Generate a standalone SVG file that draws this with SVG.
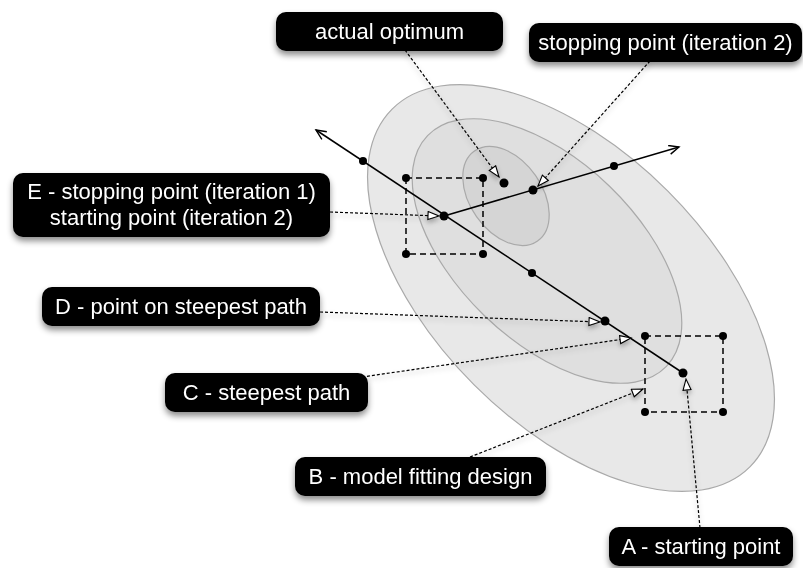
<svg xmlns="http://www.w3.org/2000/svg" width="803" height="568" viewBox="0 0 803 568">
  <style>
    .contour { stroke: #a9a9a9; stroke-width: 1.2; }
    .design { fill: none; stroke: #000; stroke-width: 1.5; stroke-dasharray: 6 4; }
    .path { fill: none; stroke: #000; stroke-width: 1.5; }
    .dot { fill: #000; }
    .lead { fill: none; stroke: #000; stroke-width: 1.2; stroke-dasharray: 3 2; marker-end: url(#hollow); }
    .box { fill: #000; }
    .lbl { fill: #fff; font-family: "Liberation Sans", Arial, Helvetica, sans-serif; font-size: 22px; text-anchor: middle; }
  </style>
  <defs>
    <filter id="shadow" x="-20%" y="-40%" width="140%" height="190%">
      <feDropShadow dx="0" dy="4" stdDeviation="3" flood-color="#000" flood-opacity="0.45"/>
    </filter>
    <filter id="softshadow" x="-20%" y="-20%" width="140%" height="140%">
      <feDropShadow dx="0" dy="3" stdDeviation="2.5" flood-color="#000" flood-opacity="0.3"/>
    </filter>
    <marker id="hollow" markerUnits="userSpaceOnUse" markerWidth="14" markerHeight="12" refX="12" refY="5" orient="auto">
      <path d="M1,1 L12,5 L1,9 z" fill="#fff" stroke="#000" stroke-width="1.1"/>
    </marker>
    <marker id="open" markerUnits="userSpaceOnUse" markerWidth="14" markerHeight="12" refX="11" refY="5" orient="auto">
      <path d="M1,0.5 L11,5 L1,9.5" fill="none" stroke="#000" stroke-width="1.4"/>
    </marker>
  </defs>

  <!-- response surface contours -->
  <g id="contours">
    <ellipse class="contour" cx="571" cy="288" rx="253" ry="137" transform="rotate(45 571 288)" fill="#e8e8e8"/>
    <ellipse class="contour" cx="547" cy="251" rx="166" ry="90" transform="rotate(44 547 251)" fill="#dfdfdf"/>
    <ellipse class="contour" cx="506" cy="196" rx="55" ry="36" transform="rotate(55 506 196)" fill="#d5d5d5"/>
  </g>

  <!-- factorial designs -->
  <g id="design-1">
    <rect class="design" x="406" y="178" width="77" height="76"/>
    <circle class="dot" cx="406" cy="178" r="4"/>
    <circle class="dot" cx="483" cy="178" r="4"/>
    <circle class="dot" cx="406" cy="254" r="4"/>
    <circle class="dot" cx="483" cy="254" r="4"/>
  </g>
  <g id="design-2">
    <rect class="design" x="645" y="336" width="78" height="76"/>
    <circle class="dot" cx="645" cy="336" r="4"/>
    <circle class="dot" cx="723" cy="336" r="4"/>
    <circle class="dot" cx="645" cy="412" r="4"/>
    <circle class="dot" cx="723" cy="412" r="4"/>
  </g>

  <!-- steepest paths -->
  <g id="path-1">
    <line class="path" x1="683" y1="373" x2="316" y2="130" marker-end="url(#open)"/>
    <circle class="dot" cx="363" cy="161" r="4"/>
    <circle class="dot" cx="532" cy="273" r="4"/>
  </g>
  <g id="path-2">
    <line class="path" x1="444" y1="216" x2="679" y2="147" marker-end="url(#open)"/>
    <circle class="dot" cx="614" cy="166" r="4"/>
  </g>
  <g id="points">
    <circle class="dot" cx="683" cy="373" r="4.5"/>
    <circle class="dot" cx="605" cy="321" r="4.5"/>
    <circle class="dot" cx="444" cy="216" r="4.5"/>
    <circle class="dot" cx="533" cy="190" r="4.5"/>
    <circle class="dot" cx="504" cy="183" r="4.5"/>
  </g>

  <!-- label leaders -->
  <g id="connectors" filter="url(#softshadow)">
    <line class="lead" x1="405" y1="50" x2="499" y2="177"/>
    <line class="lead" x1="650" y1="61" x2="538" y2="186"/>
    <line class="lead" x1="330" y1="212" x2="439" y2="216"/>
    <line class="lead" x1="320" y1="312" x2="600" y2="322"/>
    <line class="lead" x1="362" y1="377" x2="631" y2="338"/>
    <line class="lead" x1="470" y1="457" x2="643" y2="389"/>
    <line class="lead" x1="700" y1="528" x2="686" y2="379"/>
  </g>

  <!-- labels -->
  <g id="label-optimum" filter="url(#shadow)">
    <rect class="box" x="276" y="12" width="227" height="39" rx="10"/>
    <text class="lbl" x="389.5" y="38.5">actual optimum</text>
  </g>
  <g id="label-stop2" filter="url(#shadow)">
    <rect class="box" x="529" y="23" width="273" height="39" rx="10"/>
    <text class="lbl" x="665.5" y="50">stopping point (iteration 2)</text>
  </g>
  <g id="label-E" filter="url(#shadow)">
    <rect class="box" x="13" y="173" width="317" height="64" rx="10"/>
    <text class="lbl" x="171.5" y="199">E - stopping point (iteration 1)</text>
    <text class="lbl" x="171.5" y="225">starting point (iteration 2)</text>
  </g>
  <g id="label-D" filter="url(#shadow)">
    <rect class="box" x="42" y="287" width="278" height="39" rx="10"/>
    <text class="lbl" x="181" y="314">D - point on steepest path</text>
  </g>
  <g id="label-C" filter="url(#shadow)">
    <rect class="box" x="165" y="373" width="203" height="39" rx="10"/>
    <text class="lbl" x="266.5" y="400">C - steepest path</text>
  </g>
  <g id="label-B" filter="url(#shadow)">
    <rect class="box" x="295" y="457" width="251" height="39" rx="10"/>
    <text class="lbl" x="420.5" y="483.5">B - model fitting design</text>
  </g>
  <g id="label-A" filter="url(#shadow)">
    <rect class="box" x="609" y="527" width="184" height="39" rx="10"/>
    <text class="lbl" x="701" y="553.5">A - starting point</text>
  </g>
</svg>
